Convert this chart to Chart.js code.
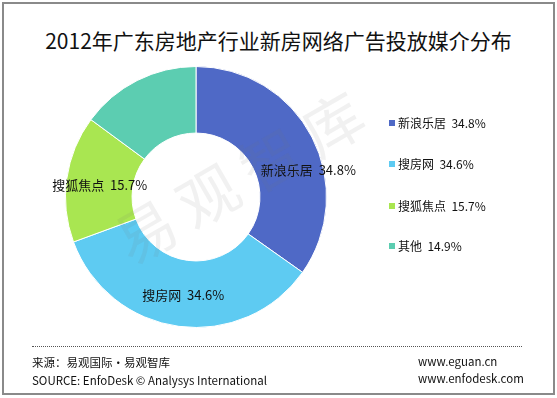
<!DOCTYPE html>
<html>
<head>
<meta charset="utf-8">
<script src="https://cdn.jsdelivr.net/npm/chart.js@4"></script>
<style>
    body { margin: 0; width: 557px; height: 398px; background: #fff; position: relative; overflow: hidden;
           font-family: "Noto Sans CJK SC", "Noto Sans", sans-serif; color: #111; }
    .frame { position: absolute; left: 2px; top: 2px; width: 549px; height: 389px; border: 2px solid #8a8a8a; }
    .title { position: absolute; left: 0; width: 557px; top: 25px; text-align: center; font-size: 21px; line-height: 30px; }
    #chart { position: absolute; left: 0; top: 0; }
    .legend { position: absolute; left: 389px; top: 0; font-size: 12px; }
    .legend-item { position: absolute; white-space: pre; line-height: 16px; }
    .legend-item i { position: absolute; left: 0; top: 5px; width: 6px; height: 6px; }
    .legend-item span { position: absolute; left: 9px; top: 0; }
    .watermark { position: absolute; left: 118px; top: 200px; font-size: 60px; letter-spacing: 12px;
                 color: rgba(120,120,120,0.10); transform: rotate(-30deg); transform-origin: left center;
                 white-space: nowrap; pointer-events: none; }
    .rule { position: absolute; left: 32px; top: 346px; width: 490px; border-top: 1px dotted #555; }
    .foot { position: absolute; font-size: 11.5px; line-height: 14px; white-space: nowrap; }
</style>
</head>
<body>
<div class="frame"></div>
<div class="title">2012年广东房地产行业新房网络广告投放媒介分布</div>
<canvas id="chart" width="557" height="398"></canvas>
<div class="legend" id="legend"></div>
<div class="watermark">易观智库</div>
<div class="rule"></div>
<div class="foot" style="left:32px;top:355px;">来源：易观国际·易观智库</div>
<div class="foot" style="left:32px;top:373px;">SOURCE: EnfoDesk © Analysys International</div>
<div class="foot" style="left:418px;top:354px;">www.eguan.cn</div>
<div class="foot" style="left:418px;top:371px;">www.enfodesk.com</div>

<script>
// media share of new-home online ads, Guangdong 2012
const categories = ['新浪乐居', '搜房网', '搜狐焦点', '其他'];
const shares = [34.8, 34.6, 15.7, 14.9];
const colors = ['#4f69c6', '#5ecbf2', '#a9e651', '#5ccdb1'];
const showOnChart = [true, true, true, false];
const labelShift = [[26, 18], [0, 2], [0, 2], [0, 0]];
const legendTops = [115, 156, 198, 238];

function fmt(v) { return v.toFixed(1) + '%'; }

document.getElementById('legend').innerHTML = categories.map((c, i) => `
    <div class="legend-item" style="top:${legendTops[i]}px">
        <i style="background:${colors[i]}"></i><span>${c}  ${fmt(shares[i])}</span>
    </div>`).join('');

const sliceLabels = {
    id: 'sliceLabels',
    afterDatasetsDraw(chart) {
        const { ctx } = chart;
        const meta = chart.getDatasetMeta(0);
        ctx.save();
        ctx.font = '13px "Noto Sans CJK SC", sans-serif';
        ctx.fillStyle = '#111';
        ctx.textAlign = 'center';
        ctx.textBaseline = 'middle';
        meta.data.forEach((arc, i) => {
            if (!showOnChart[i]) return;
            const p = arc.tooltipPosition();
            ctx.fillText(`${categories[i]}  ${fmt(shares[i])}`, p.x + labelShift[i][0], p.y + labelShift[i][1]);
        });
        ctx.restore();
    }
};

new Chart(document.getElementById('chart'), {
    type: 'doughnut',
    data: {
        labels: categories,
        datasets: [{
            data: shares,
            backgroundColor: colors,
            borderColor: '#fff',
            borderWidth: 1,
        }]
    },
    options: {
        responsive: false,
        animation: false,
        cutout: '49%',
        layout: { padding: { left: 65, top: 66, right: 230, bottom: 70 } },
        plugins: {
            legend: { display: false },
            tooltip: { enabled: false },
            title: { display: false }
        }
    },
    plugins: [sliceLabels]
});
</script>
</body>
</html>
